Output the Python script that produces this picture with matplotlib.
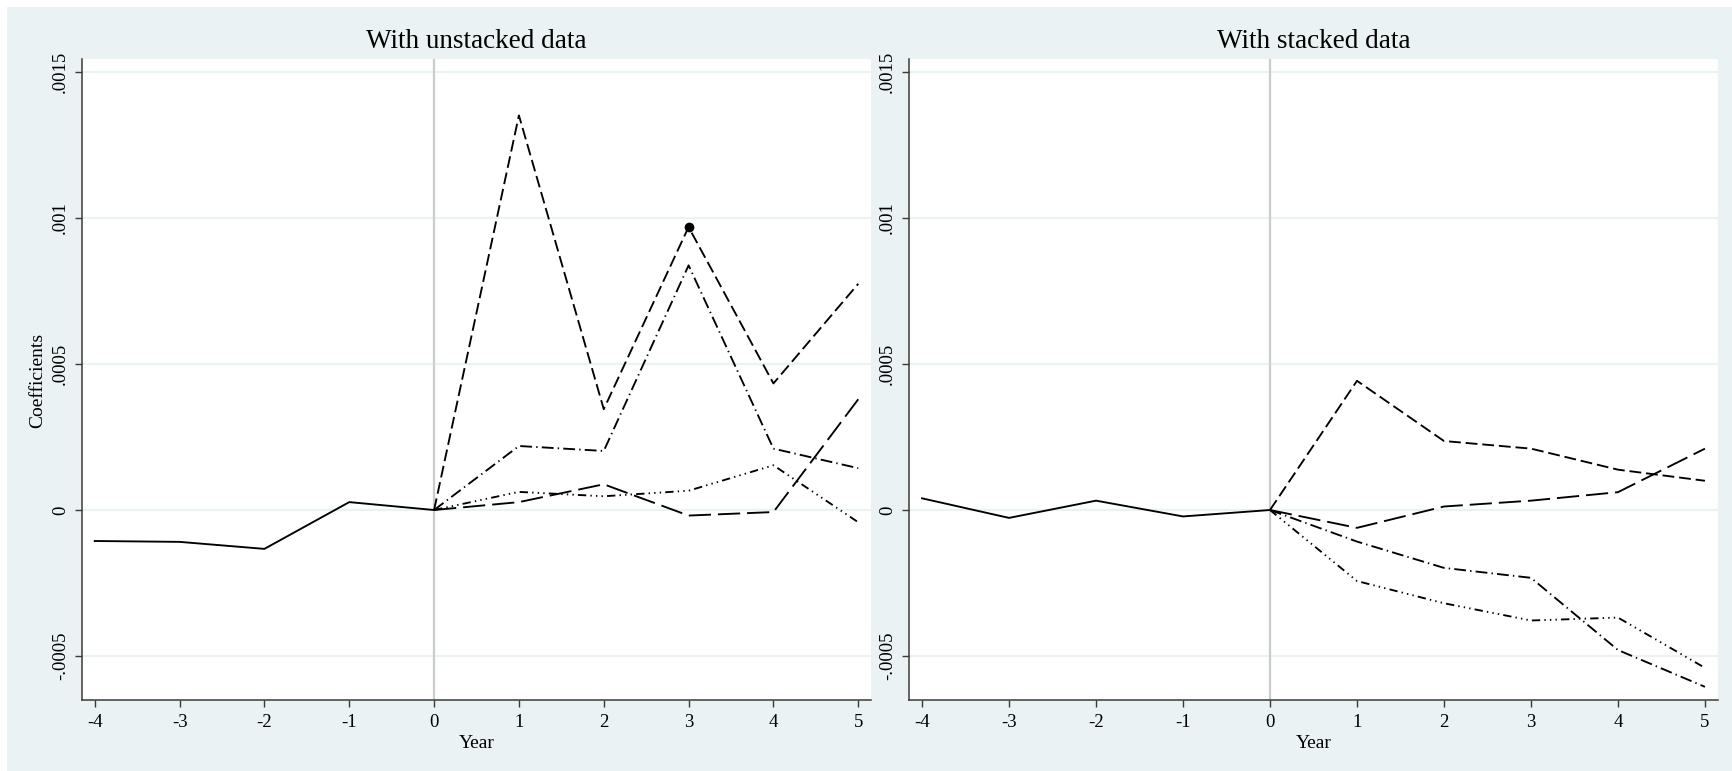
import matplotlib
matplotlib.use("Agg")
import matplotlib.pyplot as plt
from matplotlib.patches import Rectangle

plt.rcParams['font.family'] = ['Liberation Serif', 'DejaVu Serif']
plt.rcParams['lines.scale_dashes'] = False

# ---------------- data ----------------
years_pre = [-4, -3, -2, -1, 0]
years_post = [0, 1, 2, 3, 4, 5]
xticks = [-4, -3, -2, -1, 0, 1, 2, 3, 4, 5]
yticks = [-0.0005, 0, 0.0005, 0.001, 0.0015]
ytick_labels = ["-.0005", "0", ".0005", ".001", ".0015"]

# Unstacked data (left panel)
unstacked_pre = [-0.000106, -0.000109, -0.000133, 0.000027, 0.0]
unstacked_a = [0.0, 0.00135, 0.000345, 0.000968, 0.000433, 0.000774]
unstacked_b = [0.0, 0.000219, 0.000202, 0.000837, 0.000210, 0.000143]
unstacked_c = [0.0, 0.000062, 0.000047, 0.000066, 0.000153, -0.000042]
unstacked_d = [0.0, 0.000027, 0.000088, -0.000019, -0.000007, 0.000379]

# Stacked data (right panel)
stacked_pre = [0.000040, -0.000027, 0.000032, -0.000022, 0.0]
stacked_a = [0.0, 0.000442, 0.000236, 0.000210, 0.000138, 0.000100]
stacked_b = [0.0, -0.000108, -0.000198, -0.000232, -0.000479, -0.000605]
stacked_c = [0.0, -0.000243, -0.000319, -0.000378, -0.000368, -0.000540]
stacked_d = [0.0, -0.000061, 0.000012, 0.000032, 0.000061, 0.000210]

marker_x = [3]
marker_y = [0.000968]

titles = ["With unstacked data", "With stacked data"]

# ---------------- style ----------------
BG = '#EAF2F3'
GRID = '#EAF2F3'
W, H = 1732, 771

style_a = (0, (8.5, 3.5))
style_b = (0, (8.5, 3, 1, 3))
style_c = (0, (6, 3, 1, 3, 1, 3, 1, 3))
style_d = (0, (16, 5))

fig = plt.figure(figsize=(W / 100, H / 100), dpi=100, facecolor='white')
fig.patches.append(Rectangle((7 / W, 0), 1, 1 - 7 / H, transform=fig.transFigure,
                             facecolor=BG, edgecolor='none', zorder=-10))

ax1 = fig.add_axes([82 / W, 71 / H, 789 / W, 641 / H])
ax2 = fig.add_axes([909 / W, 71 / H, 809 / W, 641 / H])

panels = [
    (ax1, unstacked_pre, unstacked_a, unstacked_b, unstacked_c, unstacked_d),
    (ax2, stacked_pre, stacked_a, stacked_b, stacked_c, stacked_d),
]

for i, (ax, pre, a, b, c, d) in enumerate(panels):
    ax.set_facecolor('white')
    ax.set_xlim(-4.15, 5.15)
    ax.set_ylim(-0.00065, 0.001543)
    for yv in yticks:
        ax.axhline(yv, color=GRID, lw=1.6, zorder=0)
    ax.axvline(0, color='#C9CDCE', lw=1.6, zorder=1)
    lw = 1.35
    ax.plot(years_pre, pre, color='black', lw=lw, ls='-', zorder=3)
    ax.plot(years_post, a, color='black', lw=lw, ls=style_a, zorder=3)
    ax.plot(years_post, b, color='black', lw=lw, ls=style_b, zorder=3)
    ax.plot(years_post, c, color='black', lw=lw, ls=style_c, zorder=3)
    ax.plot(years_post, d, color='black', lw=lw, ls=style_d, zorder=3)
    if i == 0:
        ax.plot(marker_x, marker_y, 'o', color='black', ms=6, zorder=4)

    for s in ['top', 'right']:
        ax.spines[s].set_visible(False)
    for s in ['left', 'bottom']:
        ax.spines[s].set_color('#3a3a3a')
        ax.spines[s].set_linewidth(1.1)
    ax.set_xticks(xticks)
    ax.set_xticklabels([str(t) for t in xticks])
    ax.set_yticks(yticks)
    ax.set_yticklabels(ytick_labels, rotation=90, va='center')
    ax.tick_params(axis='both', direction='out', length=5.3, width=1.0,
                   color='#3a3a3a', labelsize=13.5, pad=5)
    ax.tick_params(axis='y', pad=4)

    pos = ax.get_position()
    cx = (pos.x0 + pos.x1) / 2
    fig.text(cx, 1 - 42 / H, titles[i], ha='center', va='center', fontsize=19.5)
    fig.text(cx, 1 - 743 / H, "Year", ha='center', va='center', fontsize=14)

fig.text(38 / W, 1 - 380 / H, "Coefficients", rotation=90, ha='center', va='center',
         fontsize=14)

fig.savefig('out.png', dpi=100, facecolor='white')
